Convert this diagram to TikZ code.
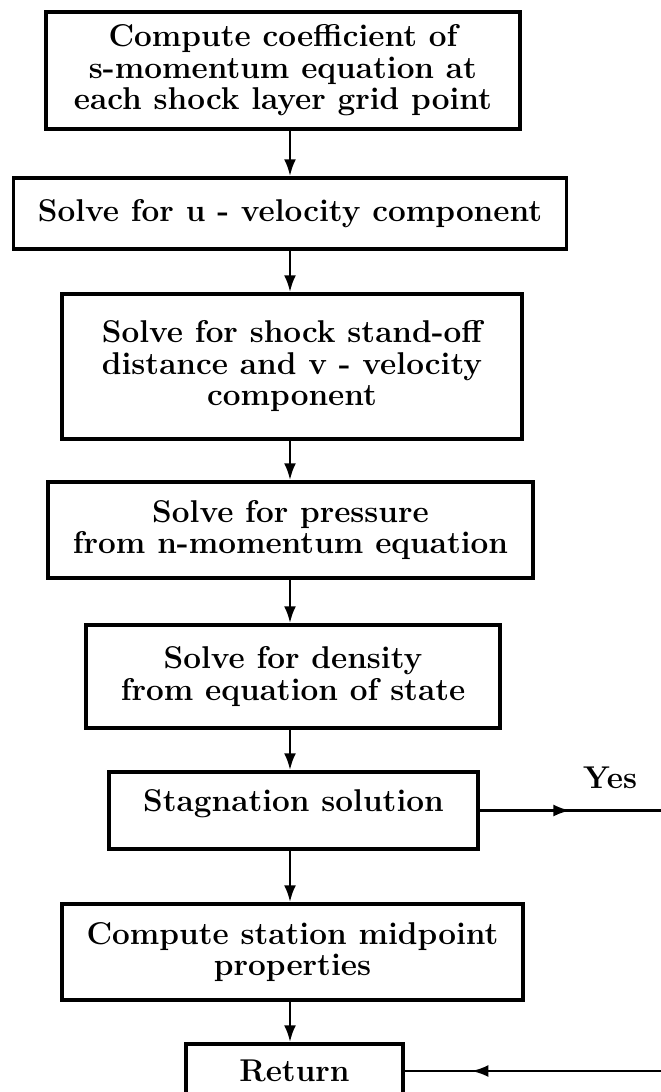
\documentclass[tikz,border=0pt]{standalone}
\usepackage{fontspec}
\usetikzlibrary{arrows.meta,decorations.markings}

\tikzset{
  >={Latex[length=17pt,width=12pt]},
  box/.style={draw, line width=3.5pt, inner sep=0pt, align=center,
    font=\fontsize{31.5}{31.5}\selectfont\bfseries},
  flow/.style={->, line width=2.8pt},
  midarrow/.style={line width=2.8pt, decoration={markings,
    mark=at position #1 with {\arrow{>}}}, postaction={decorate}}
}

\begin{document}
\begin{tikzpicture}[x=1pt,y=-1pt]
  \useasboundingbox (0,0) rectangle (661,1092);
  \clip (0,0) rectangle (661,1092);
  \node[box, minimum width=474pt, minimum height=117pt] (coef) at (283,70.5)
    {Compute coefficient of\\ s-momentum equation at\\ each shock layer grid point};
  \node[box, minimum width=553pt, minimum height=71pt] (uvel) at (290,213.5)
    {Solve for u - velocity component};
  \node[box, minimum width=460pt, minimum height=145pt] (vvel) at (292,366.5)
    {Solve for shock stand-off\\ distance and v - velocity\\ component};
  \node[box, minimum width=485pt, minimum height=96pt] (press) at (290.5,530)
    {Solve for pressure\\ from n-momentum equation};
  \node[box, minimum width=414pt, minimum height=103pt] (dens) at (293,676.5)
    {Solve for density\\ from equation of state};
  \node[box, minimum width=369pt, minimum height=77pt] (stag) at (293.5,810.5)
    {Stagnation solution\\[-12pt]\mbox{}};
  \node[box, minimum width=461pt, minimum height=96pt] (midpt) at (292.5,952)
    {Compute station midpoint\\ properties};
  \node[box, minimum width=217pt, minimum height=54pt] (ret) at (294.5,1071)
    {Return};
  \node[font=\fontsize{31.5}{31.5}\selectfont\bfseries] (yes) at (610,778) {Yes};
  \coordinate (yesend) at (661,810.5);
  \coordinate (retstart) at (661,1071);

  \draw[flow] (coef.south -| uvel.north) -- (uvel.north);
  \draw[flow] (uvel.south) -- (uvel.south |- vvel.north);
  \draw[flow] (vvel.south -| uvel.south) -- (uvel.south |- press.north);
  \draw[flow] (press.south -| uvel.south) -- (uvel.south |- dens.north);
  \draw[flow] (dens.south -| uvel.south) -- (uvel.south |- stag.north);
  \draw[flow] (stag.south -| uvel.south) -- (uvel.south |- midpt.north);
  \draw[flow] (midpt.south -| uvel.south) -- (uvel.south |- ret.north);
  \draw[midarrow=0.5] (stag.east) -- (yesend);
  \draw[midarrow=0.74] (retstart) -- (ret.east);
\end{tikzpicture}
\end{document}
